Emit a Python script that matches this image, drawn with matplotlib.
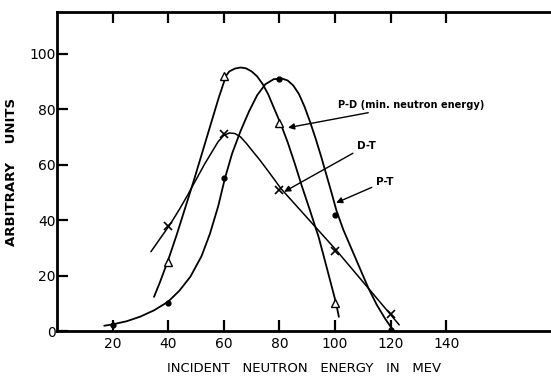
import matplotlib.pyplot as plt

# measured points (marker positions)
pt_energy = [20, 40, 60, 80, 100, 120]
pt_vals = [2, 10, 55, 91, 42, 0.5]
pd_energy = [40, 60, 80, 100]
pd_vals = [25, 92, 75, 10]
dt_energy = [40, 60, 80, 100, 120]
dt_vals = [38, 71, 51, 29, 6]

# hand-drawn curves through the measurements
pt_curve_x = [17, 20, 25, 30, 35, 40, 44, 48, 52, 55, 58, 60.4, 63, 66, 69, 72,
              75, 78, 81, 83, 85, 87, 89, 91, 93, 95, 97, 99, 100.5, 103, 106,
              109, 112, 115, 118, 120.4]
pt_curve_y = [1.9, 2.4, 3.5, 5.2, 7.5, 10.6, 14.5, 19.6, 27, 35, 45, 55, 64, 72,
              79, 85, 89, 90.8, 91, 90.3, 88.5, 85.5, 81, 75.5, 69.5, 63, 56, 49,
              43.5, 36.5, 29.5, 22.5, 15.5, 9.5, 4.5, 1]
pd_curve_x = [34.9, 37, 39.9, 43, 46, 49.3, 52, 55, 58, 60.8, 62, 64, 66, 68, 70,
              72, 74, 76, 78, 80.6, 83, 85.5, 88, 91, 94.2, 97, 100.4, 101.4]
pd_curve_y = [12.3, 17.5, 25.3, 34.5, 44, 54.5, 63.5, 73.5, 83.5, 92, 93.6, 94.6,
              95, 94.7, 93.6, 91.8, 89, 85.3, 80.5, 74.4, 68, 60.5, 52.5, 43.5,
              33.6, 23, 10, 5.1]
dt_curve_x = [33.8, 37, 40.6, 44, 47, 50, 53, 56, 58, 60, 62, 64, 66, 68, 70, 73,
              76, 78.5, 80.6, 100.4, 120.1, 123.1]
dt_curve_y = [28.6, 33.2, 38.3, 43.8, 49, 54.5, 60, 65, 68.3, 70.5, 71.4, 71.2,
              70, 67.8, 65.3, 61.6, 57.6, 54.2, 51.3, 29.2, 5.8, 2.2]

xticks = [20, 40, 60, 80, 100, 120, 140]
yticks = [0, 20, 40, 60, 80, 100]

plt.rcParams['font.family'] = 'DejaVu Sans'

fig = plt.figure(figsize=(5.51, 3.79), dpi=100)
ax = fig.add_axes([0.1034, 0.1266, 0.8966, 0.8417])

line_kw = dict(color='black', solid_joinstyle='round', solid_capstyle='round')
ax.plot(pt_curve_x, pt_curve_y, lw=1.3, **line_kw)
ax.plot(pd_curve_x, pd_curve_y, lw=1.3, **line_kw)
ax.plot(dt_curve_x, dt_curve_y, lw=1.1, **line_kw)

ax.plot(pt_energy, pt_vals, 'o', color='black', ms=3.5, ls='none')
ax.plot(pd_energy, pd_vals, '^', mfc='white', mec='black', mew=1.0, ms=6, ls='none')
ax.plot(dt_energy, dt_vals, 'x', color='black', mew=1.2, ms=6, ls='none')

ax.set_xlim(0, 177.7)
ax.set_ylim(0, 115)

for side in ['left', 'bottom', 'top']:
    ax.spines[side].set_linewidth(2)
ax.spines['right'].set_visible(False)

ax.set_xticks(xticks)
ax.set_xticklabels([str(t) for t in xticks])
ax.set_yticks(yticks)
ax.set_yticklabels([str(t) for t in yticks])
ax.tick_params(direction='in', length=8, width=1.6, labelsize=10,
               top=True, right=False)
ax.tick_params(axis='x', pad=4)
ax.tick_params(axis='y', pad=1)

ax.set_xlabel('INCIDENT   NEUTRON   ENERGY   IN   MEV', fontsize=9.5, labelpad=8)
ax.set_ylabel('ARBITRARY    UNITS', fontsize=9.5, fontweight='bold', labelpad=8)

arrow = dict(arrowstyle='-|>', color='black', lw=1.0, mutation_scale=9, shrinkA=1, shrinkB=0)
ax.annotate('P-D (min. neutron energy)', xy=(83.1, 73.3), xytext=(101.1, 81.6),
            fontsize=7.1, fontweight='bold', va='center', ha='left', arrowprops=arrow)
ax.annotate('D-T', xy=(81.7, 50.2), xytext=(107.9, 66.8),
            fontsize=7.5, fontweight='bold', va='center', ha='left', arrowprops=arrow)
ax.annotate('P-T', xy=(100.4, 46.2), xytext=(114.7, 53.8),
            fontsize=7.5, fontweight='bold', va='center', ha='left', arrowprops=arrow)

fig.savefig('out.png', dpi=100)
